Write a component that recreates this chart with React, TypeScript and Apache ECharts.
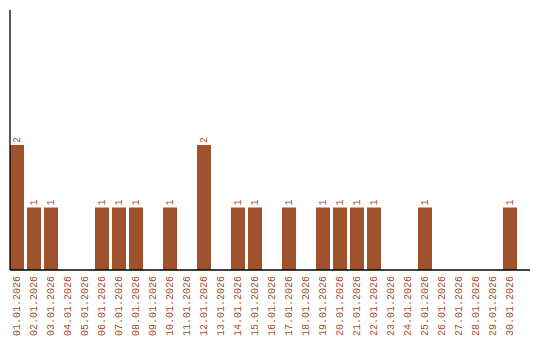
import React, { useEffect, useRef } from "react";
import * as echarts from "echarts";

const categories = [
  "01.01.2026", "02.01.2026", "03.01.2026", "04.01.2026", "05.01.2026",
  "06.01.2026", "07.01.2026", "08.01.2026", "09.01.2026", "10.01.2026",
  "11.01.2026", "12.01.2026", "13.01.2026", "14.01.2026", "15.01.2026",
  "16.01.2026", "17.01.2026", "18.01.2026", "19.01.2026", "20.01.2026",
  "21.01.2026", "22.01.2026", "23.01.2026", "24.01.2026", "25.01.2026",
  "26.01.2026", "27.01.2026", "28.01.2026", "29.01.2026", "30.01.2026",
];
const values = [
  2, 1, 1, 0, 0,
  1, 1, 1, 0, 1,
  0, 2, 0, 1, 1,
  0, 1, 0, 1, 1,
  1, 1, 0, 0, 1,
  0, 0, 0, 0, 1,
];

const COLOR = "#A0522D";
const FONT = "Liberation Mono";

export default function App() {
  const ref = useRef<HTMLDivElement>(null);
  useEffect(() => {
    if (!ref.current) return;
    const chart = echarts.init(ref.current, null, { renderer: "svg" });
    chart.setOption({
      animation: false,
      backgroundColor: "#ffffff",
      grid: { left: 8.5, right: 21.5, top: 10, bottom: 70, containLabel: false },
      xAxis: {
        type: "category",
        data: categories,
        axisLine: { show: false },
        axisTick: { show: false },
        axisLabel: {
          rotate: 90,
          interval: 0,
          color: COLOR,
          fontFamily: FONT,
          fontSize: 10,
          margin: 6,
        },
      },
      yAxis: {
        type: "value",
        min: 0,
        max: 4.16,
        axisLine: { show: false },
        axisTick: { show: false },
        axisLabel: { show: false },
        splitLine: { show: false },
      },
      graphic: [
        { type: "line", shape: { x1: 10, y1: 10, x2: 10, y2: 270 }, style: { stroke: "#000", lineWidth: 1.3 }, z: 10 },
        { type: "line", shape: { x1: 10, y1: 270, x2: 530, y2: 270 }, style: { stroke: "#000", lineWidth: 1.3 }, z: 10 },
      ],
      series: [
        {
          type: "bar",
          data: values.map((v) => (v === 0 ? null : v)),
          barWidth: 14,
          itemStyle: { color: COLOR },
          label: {
            show: true,
            position: "top",
            rotate: 90,
            align: "left",
            verticalAlign: "middle",
            distance: 2,
            color: COLOR,
            fontFamily: FONT,
            fontSize: 10,
          },
        },
      ],
    });
    return () => chart.dispose();
  }, []);
  return <div ref={ref} style={{ width: 540, height: 340, position: "absolute", left: 0, top: 0 }} />;
}
